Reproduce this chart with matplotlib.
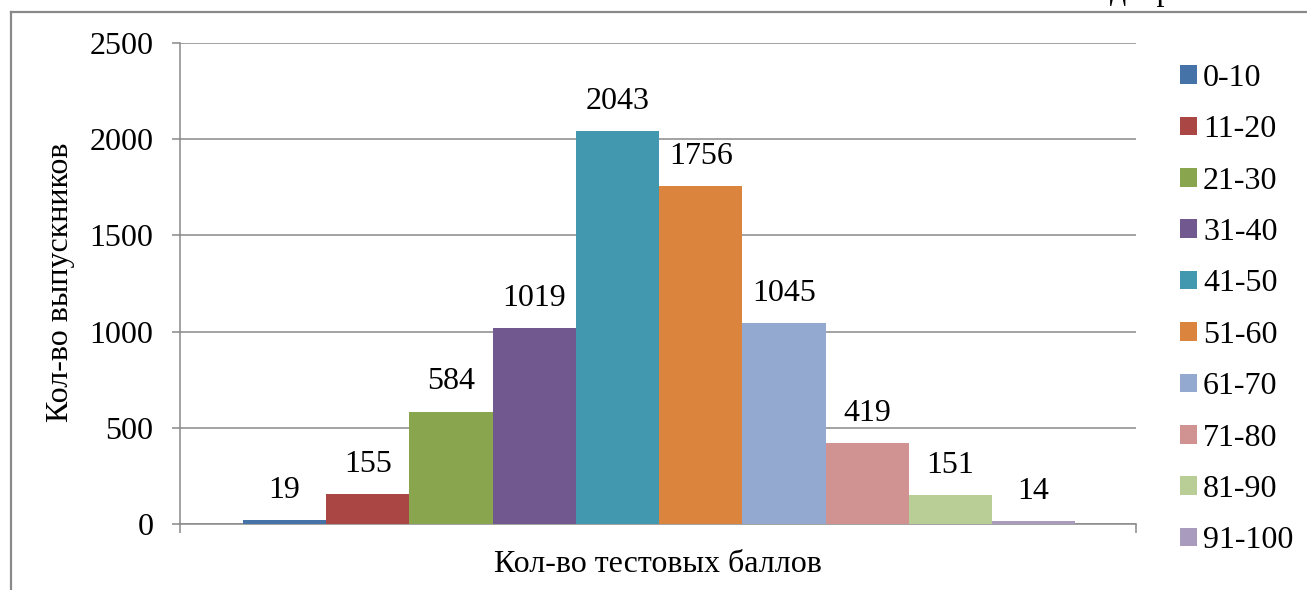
import matplotlib
matplotlib.use('Agg')
from matplotlib import pyplot as plt
from matplotlib.lines import Line2D

plt.rcParams['font.family'] = ['Liberation Serif', 'DejaVu Serif']

ranges = ['0-10', '11-20', '21-30', '31-40', '41-50',
          '51-60', '61-70', '71-80', '81-90', '91-100']
counts = [19, 155, 584, 1019, 2043, 1756, 1045, 419, 151, 14]
colors = ['#4572A7', '#AA4643', '#89A54E', '#71588F', '#4198AF',
          '#DB843D', '#93A9CF', '#D19392', '#B9CD96', '#A99BBD']

grey = '#898989'
fs = 23

fig = plt.figure(figsize=(13.07, 5.90), dpi=100)
ax = fig.add_axes([180/1307, 1 - 524/590, 956/1307, 481/590])

# each score range is its own series in one category
for i, (lab, val, c) in enumerate(zip(ranges, counts, colors)):
    ax.bar(i, val, width=1.0, color=c, label=lab, zorder=3)
    ax.annotate(str(val), (i, val), xytext=(0, 11), textcoords='offset points',
                ha='center', va='bottom', fontsize=fs)

ax.set_ylim(0, 2500)
ax.set_yticks(range(0, 2501, 500))
ax.set_xlim(-1.257, 10.23)
ax.set_xticks([-1.257, 10.23])
ax.set_xticklabels(['', ''])
ax.grid(axis='y', color=grey, linewidth=1.1, zorder=0)

for s in ['top', 'right']:
    ax.spines[s].set_visible(False)
for s in ['left', 'bottom']:
    ax.spines[s].set_color(grey)
    ax.spines[s].set_linewidth(1.1)
ax.tick_params(axis='y', length=6, width=1.1, color=grey, pad=13, labelsize=fs)
ax.tick_params(axis='x', length=6.5, width=1.1, color=grey)

ax.set_ylabel('Кол-во выпускников', fontsize=fs)
ax.yaxis.set_label_coords(-0.11, 0.503)
ax.set_xlabel('Кол-во тестовых баллов', fontsize=fs)
ax.xaxis.set_label_coords(0.5, -0.055)

ax.legend(loc='upper left', bbox_to_anchor=(1180/1307, 1 - 64/590),
          bbox_transform=fig.transFigure, frameon=False, fontsize=fs,
          handlelength=0.52, handleheight=0.52, handletextpad=0.2,
          labelspacing=0.7, borderpad=0, borderaxespad=0)

# outer frame of the embedded chart
fig.add_artist(Line2D([11/1307, 11/1307], [0, 1 - 12/590], color=grey, lw=1.6))
fig.add_artist(Line2D([11/1307, 1], [1 - 12/590, 1 - 12/590], color=grey, lw=1.6))
fig.text(1110/1307, 1.0, 'д а р', fontsize=fs, va='baseline', ha='left')

fig.savefig('out.png', dpi=100)
